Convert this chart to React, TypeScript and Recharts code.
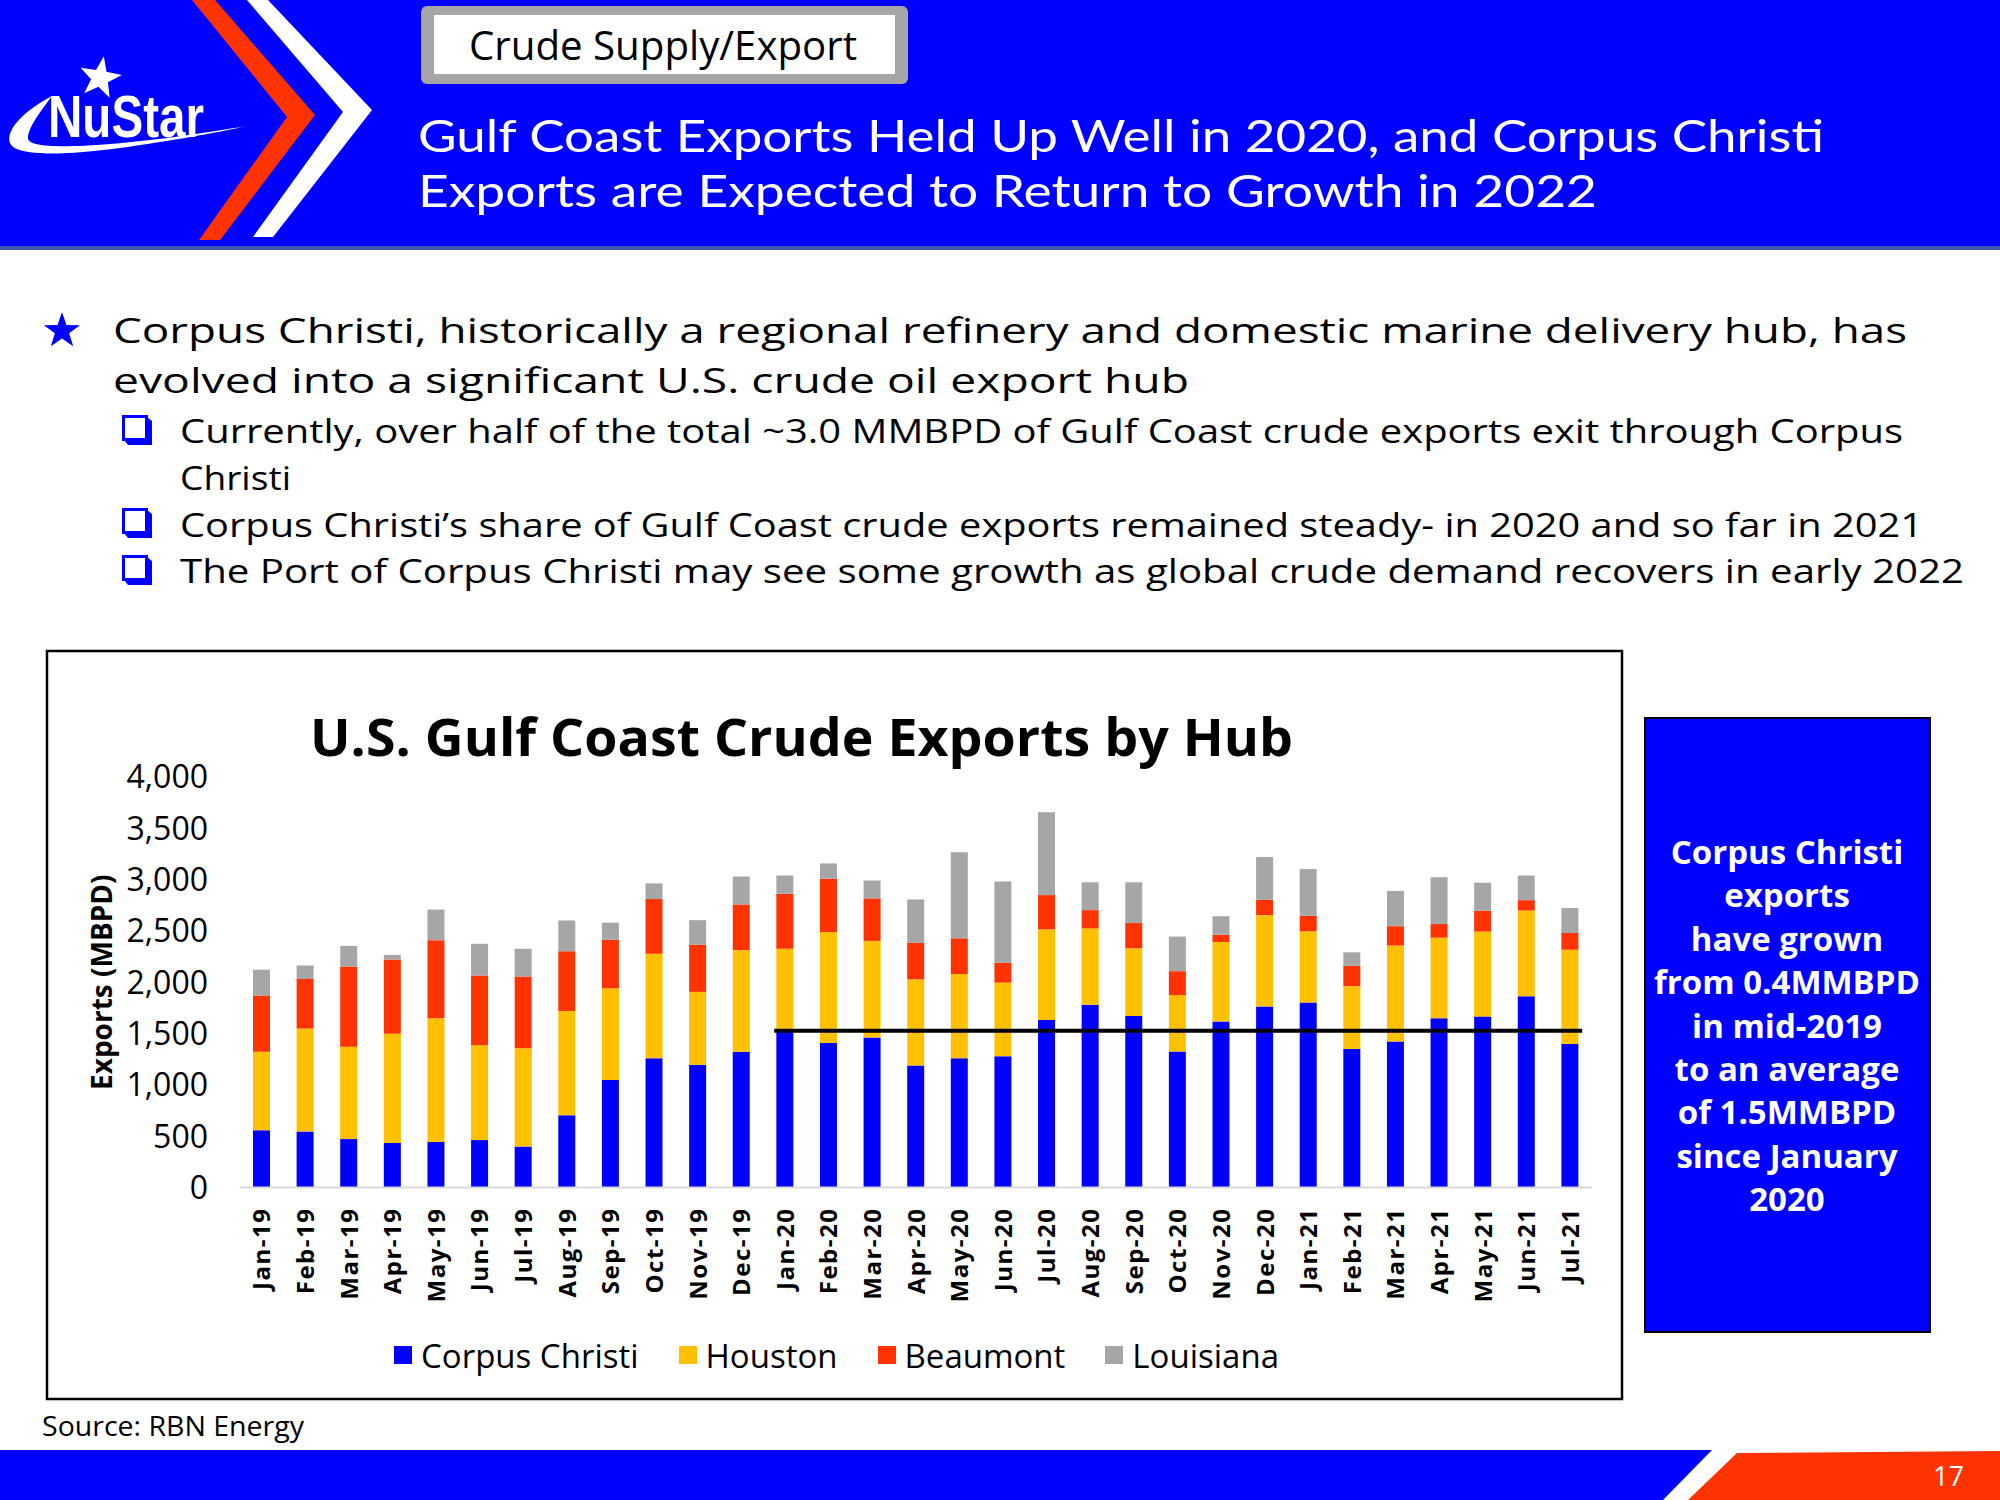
import React from "react";
import { BarChart, Bar, XAxis, YAxis, Legend, ReferenceLine, Label } from "recharts";

const months = [
  "Jan-19", "Feb-19", "Mar-19", "Apr-19", "May-19", "Jun-19", "Jul-19", "Aug-19",
  "Sep-19", "Oct-19", "Nov-19", "Dec-19", "Jan-20", "Feb-20", "Mar-20", "Apr-20",
  "May-20", "Jun-20", "Jul-20", "Aug-20", "Sep-20", "Oct-20", "Nov-20", "Dec-20",
  "Jan-21", "Feb-21", "Mar-21", "Apr-21", "May-21", "Jun-21", "Jul-21",
];

// MBPD by hub
const corpusChristi = [
  559, 545, 472, 434, 444, 462, 399, 705, 1047, 1259, 1197, 1322, 1540, 1409, 1461, 1190,
  1259, 1280, 1631, 1781, 1670, 1325, 1617, 1763, 1802, 1350, 1423, 1649, 1666, 1864, 1398,
];
const houston = [
  764, 1004, 900, 1063, 1205, 923, 959, 1016, 894, 1019, 709, 991, 787, 1081, 942, 838,
  821, 717, 884, 744, 660, 550, 776, 891, 695, 612, 935, 786, 828, 835, 919,
];
const beaumont = [
  549, 482, 781, 725, 761, 681, 698, 582, 473, 532, 459, 445, 536, 519, 414, 355,
  348, 194, 334, 178, 247, 233, 70, 149, 150, 198, 188, 132, 202, 101, 163,
];
const louisiana = [
  250, 132, 201, 45, 298, 309, 270, 299, 167, 153, 240, 272, 177, 149, 174, 424,
  838, 790, 807, 271, 397, 337, 180, 418, 456, 132, 344, 456, 274, 240, 243,
];

const yTicks = [0, 500, 1000, 1500, 2000, 2500, 3000, 3500, 4000];
const ccAverage = 1527;
const averageFrom = "Jan-20";
const averageTo = "Jul-21";

const series = [
  { key: "cc", name: "Corpus Christi", color: "#0000FF" },
  { key: "houston", name: "Houston", color: "#FFC000" },
  { key: "beaumont", name: "Beaumont", color: "#FF3300" },
  { key: "louisiana", name: "Louisiana", color: "#A6A6A6" },
];

const data = months.map((month, i) => ({
  month,
  cc: corpusChristi[i],
  houston: houston[i],
  beaumont: beaumont[i],
  louisiana: louisiana[i],
}));

const FONT = "'Open Sans', sans-serif";
const BLUE = "#0000FF";
const RED = "#FF3300";

function MonthTick({ x, y, payload }: any) {
  const ty = y + 20;
  return (
    <text
      x={x}
      y={ty}
      transform={`rotate(-90 ${x} ${ty})`}
      textAnchor="end"
      dy="0.36em"
      fontFamily={FONT}
      fontWeight={700}
      fontSize={24}
      letterSpacing={1.5}
      fill="#000"
    >
      {payload.value}
    </text>
  );
}

function HubLegend() {
  return (
    <div
      style={{
        display: "flex",
        justifyContent: "center",
        alignItems: "center",
        gap: 40,
        height: 50,
        paddingLeft: 4,
        fontFamily: FONT,
        fontSize: 33,
        color: "#000",
      }}
    >
      {series.map((s) => (
        <div key={s.key} style={{ display: "flex", alignItems: "center", gap: 9 }}>
          <span style={{ width: 18, height: 18, background: s.color, display: "inline-block" }} />
          <span>{s.name}</span>
        </div>
      ))}
    </div>
  );
}

function AvgLine(p: any) {
  return <line x1={p.x1 - 11} y1={p.y1} x2={p.x2 + 12} y2={p.y2} stroke="#000" strokeWidth={4} />;
}

function Star({ cx, cy, r, ri, fill, rot = 0 }: any) {
  const pts: string[] = [];
  for (let i = 0; i < 10; i++) {
    const a = ((rot - 90 + i * 36) * Math.PI) / 180;
    const rr = i % 2 === 0 ? r : ri;
    pts.push(`${cx + rr * Math.cos(a)},${cy + rr * Math.sin(a)}`);
  }
  return <polygon points={pts.join(" ")} fill={fill} />;
}

function BoxBullet({ x, y }: any) {
  return (
    <g>
      <rect x={x + 1.5} y={y + 1.5} width={23} height={23} fill="#fff" stroke={BLUE} strokeWidth={3} />
      <polygon
        points={`${x + 2},${y + 25} ${x + 25},${y + 25} ${x + 25},${y + 2} ${x + 30},${y + 6} ${x + 30},${y + 30} ${x + 6},${y + 30}`}
        fill={BLUE}
      />
    </g>
  );
}

function SlideBackground() {
  const t = (props: any, text: string) => (
    <text lengthAdjust="spacingAndGlyphs" fontFamily={FONT} {...props}>
      {text}
    </text>
  );
  const boxLines = [
    "Corpus Christi",
    "exports",
    "have grown",
    "from 0.4MMBPD",
    "in mid-2019",
    "to an average",
    "of 1.5MMBPD",
    "since January",
    "2020",
  ];
  return (
    <svg width={2000} height={1500} style={{ position: "absolute", left: 0, top: 0 }}>
      <rect x={0} y={0} width={2000} height={1500} fill="#fff" />
      {/* header */}
      <rect x={0} y={0} width={2000} height={247} fill={BLUE} />
      <rect x={0} y={246} width={2000} height={4} fill="#3a57a8" />
      <polygon points="192,0 215,0 315,115 220,240 199,240 287,117" fill={RED} />
      <polygon points="247,0 268,0 372,110 273,237 253,237 343,112" fill="#fff" />
      <path
        d="M 52,96 C 25,110 5,130 10,143 C 15,156 60,156 120,148 C 170,141 215,133 247,126 C 210,132 160,140 110,144 C 60,148 28,147 28,138 C 28,128 40,112 52,96 Z"
        fill="#fff"
      />
      <Star cx={100} cy={78} r={22} ri={9} fill="#fff" rot={10} />
      <text
        x={48}
        y={137}
        textLength={156}
        lengthAdjust="spacingAndGlyphs"
        fontFamily="'Liberation Sans Narrow', 'Liberation Sans', sans-serif"
        fontWeight={700}
        fontSize={60}
        fill="#fff"
      >
        NuStar
      </text>
      <rect x={421} y={6} width={487} height={78} rx={6} fill="#A6A6A6" />
      <rect x={434} y={15} width={461} height={59} fill="#fff" />
      {t({ x: 469, y: 60, textLength: 388, fontSize: 40, fill: "#000" }, "Crude Supply/Export")}
      {t(
        { x: 418, y: 152, textLength: 1406, fontSize: 45, fontFamily: "Lato, sans-serif", fill: "#fff" },
        "Gulf Coast Exports Held Up Well in 2020, and Corpus Christi"
      )}
      {t(
        { x: 418, y: 207, textLength: 1179, fontSize: 45, fontFamily: "Lato, sans-serif", fill: "#fff" },
        "Exports are Expected to Return to Growth in 2022"
      )}

      {/* bullets */}
      <Star cx={62} cy={331} r={19} ri={7.5} fill={BLUE} />
      {t(
        { x: 113, y: 343, textLength: 1794, fontSize: 34, fill: "#000" },
        "Corpus Christi, historically a regional refinery and domestic marine delivery hub, has"
      )}
      {t(
        { x: 113, y: 393, textLength: 1076, fontSize: 34, fill: "#000" },
        "evolved into a significant U.S. crude oil export hub"
      )}
      <BoxBullet x={122} y={415} />
      {t(
        { x: 180, y: 443, textLength: 1723, fontSize: 32, fill: "#000" },
        "Currently, over half of the total ~3.0 MMBPD of Gulf Coast crude exports exit through Corpus"
      )}
      {t({ x: 180, y: 490, textLength: 111, fontSize: 32, fill: "#000" }, "Christi")}
      <BoxBullet x={122} y={508} />
      {t(
        { x: 180, y: 537, textLength: 1743, fontSize: 32, fill: "#000" },
        "Corpus Christi\u2019s share of Gulf Coast crude exports remained steady- in 2020 and so far in 2021"
      )}
      <BoxBullet x={122} y={555} />
      {t(
        { x: 180, y: 583, textLength: 1784, fontSize: 32, fill: "#000" },
        "The Port of Corpus Christi may see some growth as global crude demand recovers in early 2022"
      )}

      {/* chart frame and title */}
      <rect x={47} y={651} width={1575} height={748} fill="#fff" stroke="#000" strokeWidth={2.5} />
      {t(
        { x: 310, y: 756, textLength: 983, fontSize: 52, fontWeight: 700, fill: "#000" },
        "U.S. Gulf Coast Crude Exports by Hub"
      )}

      {/* side note */}
      <rect x={1645} y={718} width={285} height={614} fill={BLUE} stroke="#000" strokeWidth={2} />
      {boxLines.map((line, i) => (
        <text
          key={line}
          x={1787}
          y={864 + i * 43.4}
          textAnchor="middle"
          fontFamily={FONT}
          fontWeight={700}
          fontSize={33}
          fill="#fff"
        >
          {line}
        </text>
      ))}

      {t({ x: 42, y: 1436, textLength: 262, fontSize: 27, fill: "#000" }, "Source: RBN Energy")}

      {/* footer */}
      <polygon points="0,1450 1712,1450 1663,1500 0,1500" fill={BLUE} />
      <polygon points="1737,1453 2000,1451 2000,1500 1688,1500" fill={RED} />
      <text x={1933} y={1486} fontFamily={FONT} fontSize={27} fill="#fff">
        17
      </text>
    </svg>
  );
}

export default function App() {
  return (
    <div style={{ position: "absolute", left: 0, top: 0, width: 2000, height: 1500, background: "#fff" }}>
      <SlideBackground />
      <div style={{ position: "absolute", left: 47, top: 651, width: 1575, height: 748 }}>
        <BarChart
          width={1575}
          height={748}
          data={data}
          margin={{ top: 126, right: 30, bottom: 19, left: 0 }}
          barSize={17}
        >
          <XAxis
            dataKey="month"
            interval={0}
            height={142.5}
            tickLine={false}
            tickSize={0}
            tickMargin={0}
            axisLine={{ stroke: "#D9D9D9", strokeWidth: 2 }}
            tick={<MonthTick />}
          />
          <YAxis
            width={193}
            domain={[0, 4000]}
            ticks={yTicks}
            interval={0}
            axisLine={false}
            tickLine={false}
            tickSize={0}
            tickMargin={32}
            tickFormatter={(v: number) => v.toLocaleString("en-US")}
            tick={{ fill: "#000", fontSize: 32, fontFamily: FONT }}
          >
            <Label
              content={({ viewBox }: any) => {
                const cx = 54;
                const cy = viewBox.y + viewBox.height / 2;
                return (
                  <text
                    x={cx}
                    y={cy}
                    transform={`rotate(-90 ${cx} ${cy})`}
                    textAnchor="middle"
                    dominantBaseline="central"
                    fontFamily={FONT}
                    fontWeight={700}
                    fontSize={28}
                    fill="#000"
                  >
                    Exports (MBPD)
                  </text>
                );
              }}
            />
          </YAxis>
          <Legend
            verticalAlign="bottom"
            content={<HubLegend />}
            wrapperStyle={{ left: 0, width: 1575, height: 50 }}
          />
          {series.map((s) => (
            <Bar
              key={s.key}
              dataKey={s.key}
              name={s.name}
              stackId="hub"
              fill={s.color}
              isAnimationActive={false}
            />
          ))}
          <ReferenceLine
            segment={[
              { x: averageFrom, y: ccAverage },
              { x: averageTo, y: ccAverage },
            ]}
            stroke="#000"
            strokeWidth={4}
            shape={AvgLine}
          />
        </BarChart>
      </div>
    </div>
  );
}
